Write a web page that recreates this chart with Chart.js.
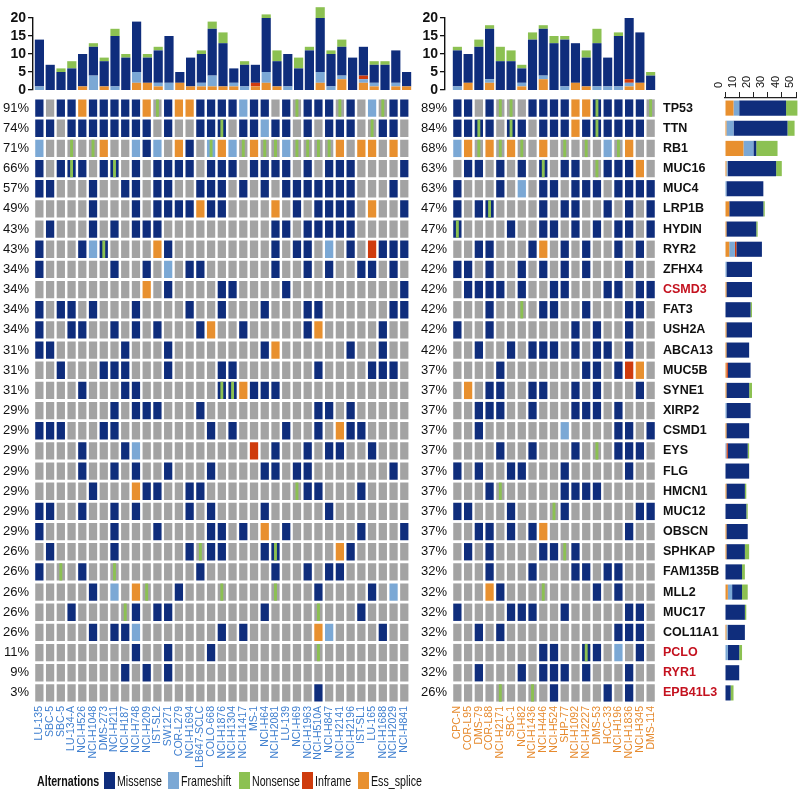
<!DOCTYPE html>
<html>
<head>
<meta charset="utf-8">
<title>Mutation oncoprint</title>
<script src="https://cdn.jsdelivr.net/npm/chart.js@4.4.1/dist/chart.umd.min.js"></script>
<style>
body{margin:0;background:#fff;width:803px;height:792px;position:relative;overflow:hidden;font-family:'Liberation Sans',Arial,sans-serif}
canvas{position:absolute}
#legend{position:absolute;left:0;top:772px;width:803px;height:20px;font-size:15px;color:#111}
#legend span{position:absolute;top:0;white-space:nowrap}
#legend .txt{transform:scaleX(0.71);transform-origin:0 50%;line-height:17px}
#legend .key{width:11px;height:17px}
</style>
</head>
<body>
<canvas id="topLeft" width="420" height="112" style="left:0;top:-9px"></canvas>
<canvas id="topRight" width="260" height="112" style="left:410px;top:-9px"></canvas>
<canvas id="matrixLeft" width="420" height="700" style="left:0;top:90px"></canvas>
<canvas id="matrixRight" width="310" height="700" style="left:410px;top:90px"></canvas>
<canvas id="geneBars" width="103" height="792" style="left:700px;top:0"></canvas>
<div id="legend"></div>
<script>
'use strict';
Chart.defaults.font.family="'Liberation Sans', Arial, sans-serif";
Chart.defaults.animation=false;
Chart.defaults.plugins.legend.display=false;
Chart.defaults.plugins.tooltip.enabled=false;

let genes=['TP53','TTN','RB1','MUC16','MUC4','LRP1B','HYDIN','RYR2','ZFHX4','CSMD3','FAT3','USH2A','ABCA13','MUC5B','SYNE1','XIRP2','CSMD1','EYS','FLG','HMCN1','MUC12','OBSCN','SPHKAP','FAM135B','MLL2','MUC17','COL11A1','PCLO','RYR1','EPB41L3'];
let redGenes=['CSMD3','PCLO','RYR1','EPB41L3'];
let pctLeft=[91,74,71,66,57,49,43,43,34,34,34,34,31,31,31,29,29,29,29,29,29,29,26,26,26,26,26,11,9,3];
let pctRight=[89,84,68,63,63,47,47,42,42,42,42,42,42,37,37,37,37,37,37,37,37,37,37,32,32,32,32,32,32,26];
let samplesLeft=['LU-135','SBC-5','SBC-5','LU-134-A','NCI-H526','NCI-H1048','DMS-273','NCI-H211','NCI-H187','NCI-H748','NCI-H209','IST-SL2','SW1271','COR-L279','NCI-H1694','LB647-SCLC','COLO-668','NCI-H1876','NCI-H1304','NCI-H1417','MS-1','NCI-H64','NCI-H2081','LU-139','NCI-H69','NCI-H1963','NCI-H510A','NCI-H847','NCI-H2141','NCI-H2196','IST-SL1','LU-165','NCI-H1688','NCI-H2029','NCI-H841'];
let samplesRight=['CPC-N','COR-L95','DMS-79','COR-L88','NCI-H2171','SBC-1','NCI-H82','NCI-H1436','NCI-H446','NCI-H524','SHP-77','NCI-H1092','NCI-H2227','DMS-53','HCC-33','NCI-H196','NCI-H1836','NCI-H345','DMS-114'];

// mutation counts per sample (top bars)
let leftSplice=[0,0,0,0,1,0,1,0,0,2,2,1,0,2,1,1,1,1,1,0,1,2,1,0,0,0,2,0,3,0,2,1,0,1,1];
let leftFrameshift=[1,0,0,0,0,4,0,1,0,3,0,1,2,0,0,1,3,0,1,1,0,3,0,1,0,0,3,1,1,0,1,1,0,1,0];
let leftInframe=[0,0,0,0,0,0,0,0,0,0,0,0,0,0,0,0,0,0,0,0,1,0,0,0,0,0,0,0,0,0,1,0,0,0,0];
let leftMissense=[13,7,5,6,9,8,7,14,9,14,7,9,13,3,8,8,13,12,4,6,5,15,7,9,6,11,15,9,8,9,8,5,7,9,4];
let leftNonsense=[0,0,1,2,0,1,1,2,1,0,1,1,0,0,0,1,2,3,0,1,0,1,3,0,3,1,3,1,2,0,0,1,1,0,0];
let rightSplice=[0,2,0,2,0,0,1,0,3,0,0,2,1,0,0,0,1,2,0];
let rightFrameshift=[1,0,0,1,0,0,1,0,1,0,1,0,0,1,1,1,1,0,0];
let rightInframe=[0,0,0,0,0,0,0,0,0,0,0,0,0,0,0,0,1,0,0];
let rightMissense=[10,8,12,14,8,8,4,14,13,13,13,11,8,12,8,14,17,14,4];
let rightNonsense=[1,0,2,1,4,3,1,2,1,2,1,0,2,4,0,1,0,0,1];

// mutation counts per gene (right bars)
let geneSplice=[6,1,13,1,0,3,1,3,0,1,0,1,1,1,1,0,1,0,0,1,0,1,1,0,2,0,1,0,0,0];
let geneFrameshift=[4,5,7,1,1,0,0,4,1,0,0,0,0,0,0,1,0,1,0,0,0,0,0,0,3,0,1,2,0,0];
let geneInframe=[0,0,0,0,0,0,0,1,0,0,0,0,0,1,0,0,0,1,0,0,0,0,0,0,0,0,0,0,0,0];
let geneMissense=[33,38,2,34,26,24,21,18,18,18,18,18,16,16,16,17,16,14,17,13,15,15,13,12,7,14,12,8,10,4];
let geneNonsense=[8,5,15,4,0,1,1,0,0,0,1,0,0,0,2,0,0,1,0,1,1,0,3,2,4,1,0,2,0,2];

// cell codes: . none, M missense, F frameshift, N nonsense, I inframe, S ess_splice, m = M+N, f = F+N
let matrixLeft=[
  'M.MMSMMMMMSNMSSMMMMFMM.MNMMMNM.FNMM',
  'MM.MMMMMMMM.M..MMm.MMFMM.M.MMM.NMM.',
  'F..N.NS..FMF.SM.fSFNSNNFNNNNS.SS.S.',
  'M.MmM.Mm.M.MMMM.MMM.MMMM.M.MMM....M',
  'MM...M..MM.MM..MMM.M.M.MMMMMMM...M.',
  '.....M...M.MMMMSMM....S.M.MMMM.S..M',
  '.M...M.M.MMM..........MM.MMMMM.....',
  'M...MFm....SM.........M.MM.F.M.IMMM',
  'M......M..M.F.MM......M..M.M..MM.M.',
  '..........S.M....MM....M..........M',
  'M.MM.M...M....M..M...M...MM......MM',
  'M..MM..M.M.M...MS..M.....MS.....M..',
  'MM......M...M........MS......M..M..',
  '..M...MMM...M....MM.......M....MMM.',
  '....M...MM.......mmSMMM............',
  '.......M.MMM...M..........MM.M.....',
  'MMM...MM........M.M....M..M.SMM....',
  '....M...MF..........I.M..M.MM..M...',
  '....M..M.M..M...M....MM.MM.......M.',
  '.....M...SMM..MM........NMM...M....',
  'MM..M..M.M....M.M....M.....M.......',
  'M......M...M....MM.M.S.M......M...M',
  '.M.....M......MNMM...Mm.....SM.....',
  'M.N.M..N.......M......M..M.MM......',
  '.....M.F.SN..M...N....N...M....M.F.',
  '...M....NM.MM........M....N...M....',
  '.....M.MMF.......M.M......SF....M..',
  '.........M..M...M.........N........',
  '........M.M.M......................',
  '..........................M........'
];
let matrixRight=[
  'MM.MNN.MMMMSSmMMMMN',
  'MMmM.mM.MMMSMmMMMM.',
  'FSNSNSN.S.N.N.FNS..',
  '.MM.M.M.m.MM.NMMMS.',
  'M...M.F.MM.MMM.MMMM',
  'M.Mm....M.MM..M.M.M',
  'm....M..MM.M.M.MM.M',
  '..MM...MS.M.M..M.M.',
  'MM.M..M.M.M.M...M..',
  '.MMMM.M..MM...MM.MM',
  '...M..N.MM..M...MM.',
  'M..M.......M.M..M..',
  '..M..M.MMM.M.MM.M..',
  '....M.......MM.MIS.',
  '.S.MM..MM..M.M...M.',
  '..MMM..M...MMM.M...',
  '..M.......F....MM.M',
  '....M..M...M.N.MMM.',
  'M.M..MM...M.....M..',
  '...MN.....MMMM.....',
  'MM...M...NM......MM',
  '..MM.M.MS.......M..',
  '.M.M....MMNM.......',
  '...M...M...MM.MM...',
  '...SM...N....M.M...',
  'M....MMM..M.....MM.',
  '..M.M..........MMM.',
  '........MM..mM.F.M.',
  '..M...M.MMM.M...M..',
  '....N..N.M....M.M..'
];

let colors={missense:'#0f2d7c',frameshift:'#7ba8d5',nonsense:'#8cc152',inframe:'#cf3b0d',splice:'#e8902f',none:'#a3a3a3'};
let cellColors={'.':colors.none,'N':colors.none,'M':colors.missense,'m':colors.missense,'F':colors.frameshift,'f':colors.frameshift,'I':colors.inframe,'S':colors.splice};
let stripeCodes='Nmf';

function stackSets(s,f,i,m,n){
  return [
    {data:s,backgroundColor:colors.splice,clip:false},
    {data:f,backgroundColor:colors.frameshift,clip:false},
    {data:i,backgroundColor:colors.inframe,clip:false},
    {data:m,backgroundColor:colors.missense,clip:false},
    {data:n,backgroundColor:colors.nonsense,clip:false}
  ];
}

// y holds the bars, ya is the visible axis set a few pixels left of the first bar
function topChart(id,labels,sets,yWidth,padRight,gap){
  new Chart(document.getElementById(id),{
    type:'bar',
    data:{labels:labels,datasets:sets},
    options:{
      responsive:false,
      layout:{padding:{left:0,right:padRight,top:27,bottom:13}},
      datasets:{bar:{barPercentage:0.85,categoryPercentage:1,borderWidth:0}},
      scales:{
        x:{stacked:true,display:false},
        y:{stacked:true,min:0,max:20,
          grid:{display:false,drawTicks:false},border:{display:false},ticks:{display:false},
          afterFit:function(s){s.width=gap;}},
        ya:{type:'linear',position:'left',weight:1,min:0,max:20,
          grid:{display:true,drawOnChartArea:false,drawTicks:true,tickLength:5,color:'#111',lineWidth:1.3},
          border:{display:true,color:'#111',width:1.4},
          ticks:{autoSkip:false,stepSize:5,padding:2,color:'#111',font:{size:14,weight:'bold'}},
          afterFit:function(s){s.width=yWidth-gap;}}
      }
    }
  });
}

function matrixChart(id,rows,samples,pcts,sampleColor,yWidth,padRight,withGenes){
  let datasets=[];
  rows.forEach(function(row,g){
    let cells=row.split('');
    datasets.push({data:cells.map(function(){return [g-0.43,g+0.43];}),backgroundColor:cells.map(function(c){return cellColors[c];}),barPercentage:0.77,categoryPercentage:1,grouped:false,order:1});
    datasets.push({data:cells.map(function(c){return stripeCodes.indexOf(c)>=0?[g-0.43,g+0.43]:null;}),backgroundColor:colors.nonsense,barPercentage:0.27,categoryPercentage:1,grouped:false,order:0});
  });
  let rowTicks=function(s){s.ticks=genes.map(function(g,i){return {value:i};});};
  let scales={
    x:{grid:{display:false,drawTicks:false},border:{display:false},
      ticks:{autoSkip:false,minRotation:90,maxRotation:90,padding:3,color:sampleColor,font:{size:10.5}},
      afterFit:function(s){s.height=87;}},
    y:{type:'linear',reverse:true,min:-0.5,max:29.5,
      grid:{display:false,drawTicks:true,tickLength:5},border:{display:false},
      afterBuildTicks:rowTicks,
      ticks:{autoSkip:false,padding:0,color:'#111',font:{size:13},callback:function(v){return pcts[v]+'%';}},
      afterFit:function(s){s.width=yWidth;}}
  };
  if(withGenes){
    scales.y2={type:'linear',position:'right',reverse:true,min:-0.5,max:29.5,
      grid:{display:false,drawTicks:true,tickLength:7},border:{display:false},
      afterBuildTicks:rowTicks,
      ticks:{autoSkip:false,padding:0,
        color:function(ctx){return redGenes.indexOf(genes[ctx.tick.value])>=0?'#c4121f':'#111';},
        font:{size:12.5,weight:'bold'},
        callback:function(v){return genes[v];}},
      afterFit:function(s){s.width=64;}};
  }
  new Chart(document.getElementById(id),{
    type:'bar',
    data:{labels:samples,datasets:datasets},
    options:{
      responsive:false,
      layout:{padding:{left:0,right:padRight,top:8,bottom:0}},
      scales:scales
    }
  });
}

topChart('topLeft',samplesLeft,stackSets(leftSplice,leftFrameshift,leftInframe,leftMissense,leftNonsense),34,8,1);
topChart('topRight',samplesRight,stackSets(rightSplice,rightFrameshift,rightInframe,rightMissense,rightNonsense),42,14,7);
matrixChart('matrixLeft',matrixLeft,samplesLeft,pctLeft,'#3f7fcf',34,8,false);
matrixChart('matrixRight',matrixRight,samplesRight,pctRight,'#e68a2e',42,0,true);

new Chart(document.getElementById('geneBars'),{
  type:'bar',
  data:{labels:genes,datasets:stackSets(geneSplice,geneFrameshift,geneInframe,geneMissense,geneNonsense)},
  options:{
    responsive:false,
    indexAxis:'y',
    layout:{padding:{left:25,right:7,top:0,bottom:89}},
    datasets:{bar:{barPercentage:0.75,categoryPercentage:1,borderWidth:0}},
    scales:{
      x:{position:'top',stacked:true,min:0,max:50,
        grid:{drawOnChartArea:false,tickLength:6,color:'#222'},
        border:{display:true,color:'#222',width:1.2},
        ticks:{autoSkip:false,stepSize:10,minRotation:90,maxRotation:90,padding:4,labelOffset:7,color:'#111',font:{size:11}},
        afterFit:function(s){s.height=98;}},
      y:{stacked:true,display:false}
    }
  }
});

// legend placed at the positions
let legendItems=[['Missense',colors.missense,104],['Frameshift',colors.frameshift,168],['Nonsense',colors.nonsense,239],['Inframe',colors.inframe,302],['Ess_splice',colors.splice,358]];
let legend=document.getElementById('legend');
let html='<span class="txt" style="left:37px;font-weight:bold">Alternations</span>';
legendItems.forEach(function(it){
  html+='<span class="key" style="left:'+it[2]+'px;background:'+it[1]+'"></span>';
  html+='<span class="txt" style="left:'+(it[2]+13)+'px">'+it[0]+'</span>';
});
legend.innerHTML=html;
</script>
</body>
</html>
